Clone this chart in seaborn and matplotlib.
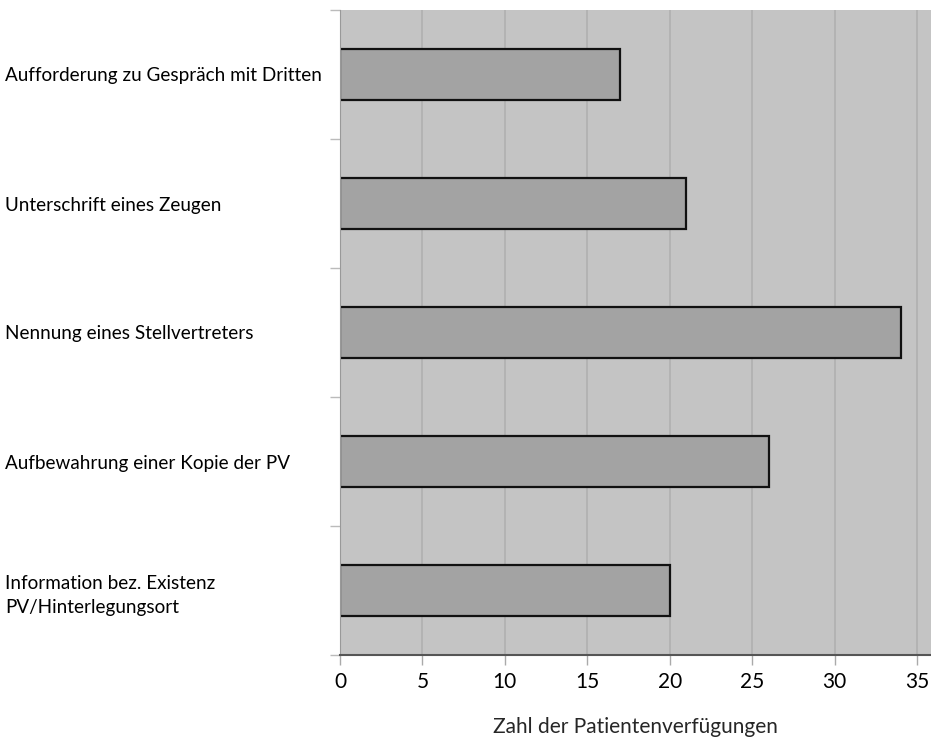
import numpy as np
import pandas as pd
import seaborn as sns
import matplotlib.pyplot as plt
from matplotlib.ticker import FixedLocator

# daten
kategorien = ['Aufforderung zu Gespräch mit Dritten',
              'Unterschrift eines Zeugen',
              'Nennung eines Stellvertreters',
              'Aufbewahrung einer Kopie der PV',
              'Information bez. Existenz\nPV/Hinterlegungsort']
anzahl = [17, 21, 34, 26, 20]
x_ticks = [0, 5, 10, 15, 20, 25, 30, 35]

df = pd.DataFrame({'kategorie': kategorien, 'anzahl': anzahl})

sns.set_style('white')
plt.rcParams['font.family'] = ['Lato', 'DejaVu Sans']
plt.rcParams['text.color'] = 'black'
plt.rcParams['xtick.color'] = 'black'
plt.rcParams['ytick.color'] = 'black'

fig = plt.figure(figsize=(9.31, 7.38), dpi=100)
ax = fig.add_axes([340/931, 1 - 655/738, 1 - 340/931, 645/738])
ax.set_facecolor('#c4c4c4')

sns.barplot(data=df, x='anzahl', y='kategorie', orient='h', color='#a3a3a3',
            edgecolor='#111111', linewidth=1.6, width=0.4, saturation=1, ax=ax)

ax.set_xlim(0, 35.85)
ax.set_ylim(4.5, -0.5)
ax.set_xticks(x_ticks)
ax.xaxis.grid(True, color='#b0b0b0', linewidth=1.2)
ax.set_axisbelow(True)

# kategorienamen linksbuendig
ax.set_yticks(range(len(kategorien)))
ax.set_yticklabels(kategorien, ha='left', fontsize=13.6, linespacing=1.5)
ax.tick_params(axis='y', which='major', left=True, length=0, pad=335 * 0.72)
ax.yaxis.set_minor_locator(FixedLocator(np.arange(-0.5, 5, 1)))
ax.tick_params(axis='y', which='minor', left=True, length=7, color='#bbbbbb', width=1)
ax.tick_params(axis='x', bottom=True, length=7, color='#aaaaaa', width=1,
               labelsize=15, pad=5)

for s in ['top', 'right']:
    ax.spines[s].set_visible(False)
ax.spines['left'].set_color('#999999')
ax.spines['bottom'].set_color('#555555')
ax.spines['bottom'].set_linewidth(1.5)

ax.set_ylabel('')
ax.set_xlabel('Zahl der Patientenverfügungen', fontsize=15, labelpad=18)

fig.savefig('out.png', dpi=100)
